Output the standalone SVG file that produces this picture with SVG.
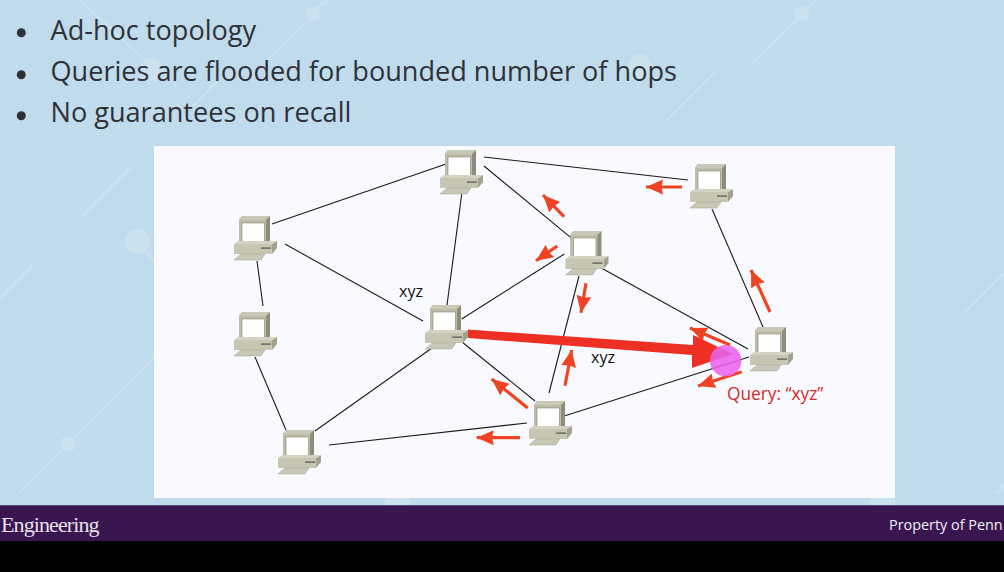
<svg xmlns="http://www.w3.org/2000/svg" width="1004" height="572" viewBox="0 0 1004 572">
<style>
.b{font-family:"Open Sans","Noto Sans",sans-serif;font-size:27.1px;fill:#2e3238}
.l{font-family:"Open Sans","Liberation Sans",sans-serif;font-size:16px;fill:#111}
.e{stroke:#1a1a1a;stroke-width:1.1;fill:none}
.a{stroke:#ee4423;stroke-width:3.2;fill:none;marker-end:url(#ah)}
.bg{stroke:#cde2ef;stroke-width:2.2;fill:none}
.bt{stroke:#c9e0ec;stroke-width:1;fill:none}
.bn{fill:#cce1ee}
</style>
<defs>
<marker id="ah" markerUnits="userSpaceOnUse" markerWidth="20" markerHeight="18" refX="17" refY="9" orient="auto"><path d="M0 1.500L17 9L0 16.500L1.500 9Z" fill="#ee4423"/></marker>
<g id="pc">
<path d="M-9 -22L-6 -26L22 -26L22 -1L18 2L-9 2Z" fill="#8f8d7a"/>
<path d="M-9 -22L18 -22L22 -26L-6 -26Z" fill="#c9c8b6"/>
<rect x="-9" y="-22" width="27" height="24" fill="#bebdaa"/>
<rect x="-6" y="-19" width="22.500" height="19" fill="#fff" stroke="#85836f" stroke-width=".6"/>
<path d="M24 2L29 -1L29 6L24 12Z" fill="#a3a18e"/>
<path d="M-14 2L-10 -1L29 -1L24 2Z" fill="#d4d3c2"/>
<rect x="-14" y="2" width="38" height="10" fill="#c7c6b3"/>
<rect x="13" y="5.500" width="10" height="1.200" fill="#55534a"/>
<path d="M-7 12L17 12L13 18L-14 18Z" fill="#c9c8b6" stroke="#a6a592" stroke-width=".5"/>
</g>
</defs>
<rect id="background" width="1004" height="572" fill="#c0dbec"/>
<g id="decor">
<path class="bg" d="M80 0L150 65"/>
<path class="bg" d="M307 22L267 60"/>
<path class="bg" d="M217 82L192 107"/>
<path class="bg" d="M317 8L328 0"/>
<path class="bg" d="M797 20L752 63"/>
<path class="bg" d="M715 72L667 120"/>
<path class="bg" d="M807 8L817 0"/>
<path class="bg" d="M143 250L154 261"/>
<path class="bg" d="M82 216L130 168"/>
<path class="bg" d="M0 298L33 265"/>
<path class="bg" d="M154 358L73 438"/>
<path class="bg" d="M63 450L19 493"/>
<path class="bg" d="M965 312L1004 273"/>
<path class="bg" d="M997 493L1004 485"/>
<path class="bt" d="M0 190L21 212"/>
<path class="bt" d="M298 0L400 97"/>
<path class="bt" d="M787 0L1004 213"/>
<path class="bt" d="M0 375L127 503"/>
<path class="bt" d="M902 298L1004 403"/>
<circle class="bn" cx="152" cy="70" r="12"/>
<circle class="bn" cx="640" cy="66" r="12"/>
<circle class="bn" cx="137" cy="241" r="12.500"/>
<circle class="bn" cx="313" cy="14" r="7"/>
<circle class="bn" cx="802" cy="14" r="7.500"/>
<circle class="bn" cx="68" cy="444" r="7.500"/>
<rect x="385" y="497" width="25" height="9" fill="#cde2ef"/>
<rect x="870" y="497" width="25" height="9" fill="#cde2ef"/>
</g>
<g id="bullets">
<circle cx="21.300" cy="32.700" r="4.500" fill="#2e3238"/><text class="b" x="50.500" y="39.500">Ad-hoc topology</text>
<circle cx="21.300" cy="74.700" r="4.500" fill="#2e3238"/><text class="b" x="50.500" y="81">Queries are flooded for bounded number of hops</text>
<circle cx="21.300" cy="115.700" r="4.500" fill="#2e3238"/><text class="b" x="50.500" y="122.300">No guarantees on recall</text>
</g>
<rect id="panel" x="154" y="146" width="741" height="352" fill="#f8faff"/>
<g id="connectors">
<path class="e" d="M446 164L272 224"/>
<path class="e" d="M462 192L447 305"/>
<path class="e" d="M484 157L688 180"/>
<path class="e" d="M484 166L571.700 238.300"/>
<path class="e" d="M285 244L423 321"/>
<path class="e" d="M257 261L263 306"/>
<path class="e" d="M255 357L286 430"/>
<path class="e" d="M432 348L315 431"/>
<path class="e" d="M461.700 319L564.300 254"/>
<path class="e" d="M579 276L549 393"/>
<path class="e" d="M461.700 341.700L535 401"/>
<path class="e" d="M601.700 268.300L748 349"/>
<path class="e" d="M712 209L763 327"/>
<path class="e" d="M329 445L527 423"/>
<path class="e" d="M565 415.700L749 357"/>
</g>
<g id="arrows">
<path class="a" d="M682 187L646 187"/>
<path class="a" d="M564 216.700L543 195"/>
<path class="a" d="M557.300 246L536 260.700"/>
<path class="a" d="M586 283.300L581 312.700"/>
<path class="a" d="M770 312L751 270"/>
<path class="a" d="M565 385.700L571.700 350"/>
<path class="a" d="M527.700 408L491.700 379"/>
<path class="a" d="M520 437.700L476.700 437.700"/>
<path class="a" d="M741.700 371.700L698 386"/>
<path class="a" d="M730 345L690 328"/>
</g>
<g id="pc-top"><use href="#pc" x="454" y="176"/></g>
<g id="pc-left-top"><use href="#pc" x="248" y="242"/></g>
<g id="pc-left-mid"><use href="#pc" x="248" y="338"/></g>
<g id="pc-center"><use href="#pc" x="439" y="331"/></g>
<g id="pc-bottom-left"><use href="#pc" x="292" y="456"/></g>
<g id="pc-bottom"><use href="#pc" x="543" y="427"/></g>
<g id="pc-mid-right"><use href="#pc" x="579.500" y="257"/></g>
<g id="pc-top-right"><use href="#pc" x="704" y="190"/></g>
<g id="pc-query"><use href="#pc" x="764" y="353"/></g>
<g id="answer">
<path d="M468 329.500L693 345L693 335L733 354L692 368L692 355L468 338Z" fill="#ee2f24"/>
</g>
<circle id="query-source" cx="725.700" cy="360.700" r="15.700" fill="#e863ea" fill-opacity=".88"/>
<g id="labels">
<text class="l" x="399" y="297">xyz</text>
<text class="l" x="591" y="363">xyz</text>
<text x="727" y="400" font-family="Open Sans,Liberation Sans,sans-serif" font-size="17.300" fill="#d42a2a">Query: “xyz”</text>
</g>
<g id="footer">
<rect y="505" width="1004" height="36" fill="#3a1650"/>
<rect y="505" width="1004" height="1" fill="#5b4a74"/>
<rect y="541" width="1004" height="31" fill="#000"/>
<text x="1" y="531.500" font-family="Liberation Serif,serif" font-size="22" letter-spacing="-.9" fill="#e6e0ea">Engineering</text>
<text x="889" y="530" font-family="Open Sans,Liberation Sans,sans-serif" font-size="14.400" fill="#f2eef4">Property of Penn</text>
</g>
</svg>
